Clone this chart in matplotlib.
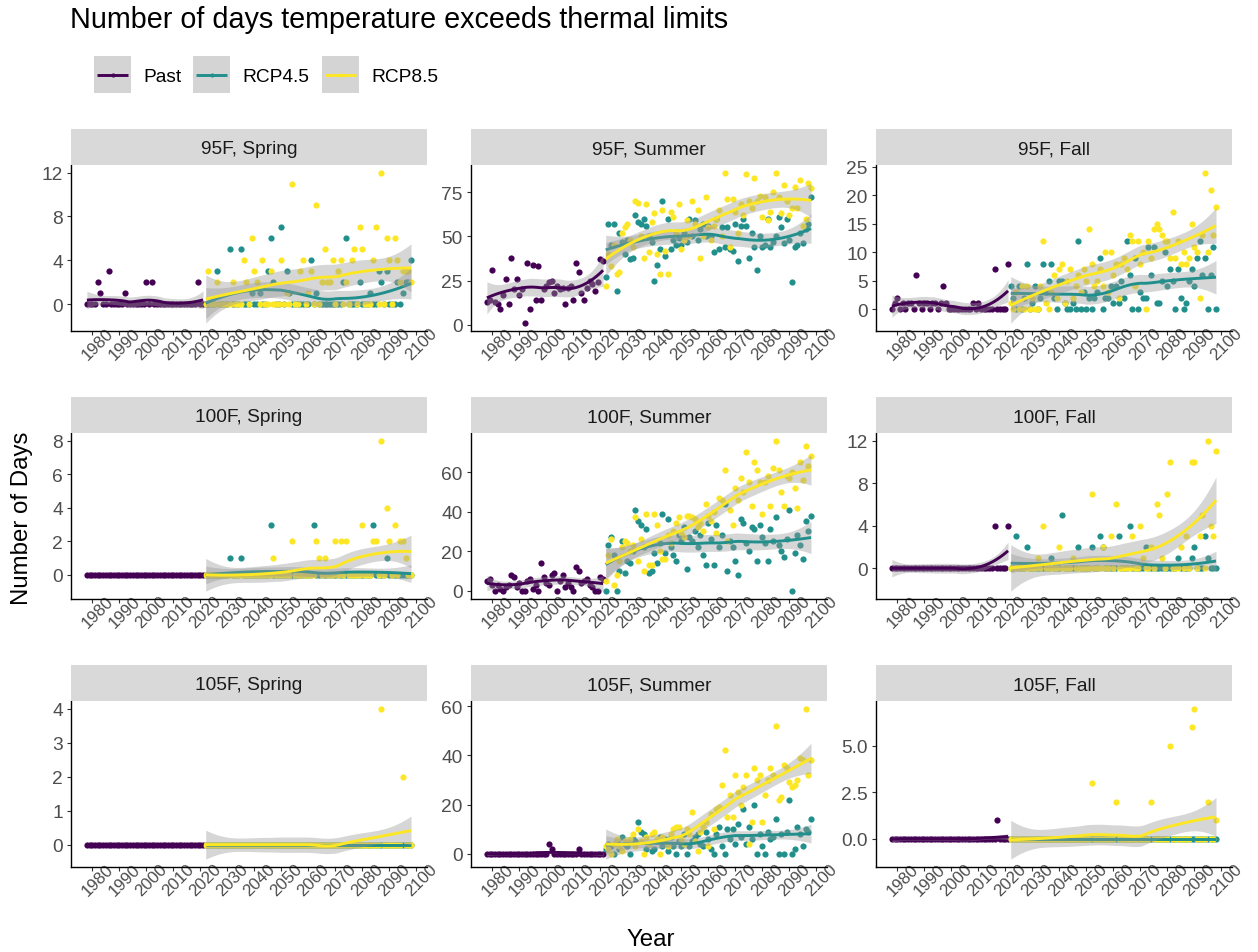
import numpy as np
import matplotlib
matplotlib.use("Agg")
import matplotlib.pyplot as plt
from matplotlib.patches import Rectangle

plt.rcParams["font.family"] = ["Liberation Sans", "DejaVu Sans"]

# ---------------------------------------------------------------- data
years_past = list(range(1978, 2022))
years_proj = list(range(2022, 2099))

series_names = ["Past", "RCP4.5", "RCP8.5"]
series_colors = ["#440154", "#21908C", "#FDE725"]

panel_titles = ["95F, Spring", "95F, Summer", "95F, Fall",
                "100F, Spring", "100F, Summer", "100F, Fall",
                "105F, Spring", "105F, Summer", "105F, Fall"]

# --- 95F
past_95_spring = [0, 0, 0, 0, 2, 1, 0, 0, 3, 0,
                  0, 0, 0, 0, 1, 0, 0, 0, 0, 0,
                  0, 0, 2, 0, 2, 0, 0, 0, 0, 0,
                  0, 0, 0, 0, 0, 0, 0, 0, 0, 0,
                  0, 2, 0, 0]
rcp45_95_spring = [0, 0, 0, 0, 3, 0, 0, 0, 0, 5,
                   0, 0, 0, 5, 0, 0, 0, 1, 0, 0,
                   1, 0, 0, 3, 6, 2, 0, 0, 7, 0,
                   3, 1, 0, 0, 0, 0, 0, 0, 0, 4,
                   0, 1, 0, 0, 0, 0, 0, 0, 0, 0,
                   0, 2, 6, 0, 0, 0, 0, 2, 0, 0,
                   0, 1, 0, 0, 3, 2, 0, 3, 0, 0,
                   0, 2, 0, 1, 2, 2, 4]
rcp85_95_spring = [0, 3, 0, 0, 2, 0, 0, 0, 0, 0,
                   2, 0, 0, 0, 4, 2, 0, 6, 3, 2,
                   0, 4, 0, 0, 3, 0, 0, 0, 4, 0,
                   1, 0, 11, 0, 0, 3, 4, 0, 1, 3,
                   0, 9, 0, 2, 5, 2, 2, 4, 0, 3,
                   4, 0, 2, 0, 4, 5, 0, 7, 5, 0,
                   0, 0, 4, 7, 0, 12, 0, 6, 4, 0,
                   6, 4, 2, 3, 3, 3, 2]

past_95_summer = [13, 14, 31, 13, 12, 9, 17, 26, 12, 38,
                  20, 26, 17, 20, 1, 35, 9, 34, 14, 33,
                  14, 20, 22, 24, 25, 18, 22, 20, 21, 12,
                  21, 22, 14, 35, 30, 18, 14, 21, 25, 23,
                  19, 24, 37, 36]
rcp45_95_summer = [27, 57, 45, 57, 19, 52, 47, 40, 48, 37,
                   38, 62, 58, 57, 60, 56, 50, 47, 25, 34,
                   43, 70, 39, 60, 43, 48, 45, 49, 45, 52,
                   47, 60, 50, 59, 48, 54, 57, 50, 56, 50,
                   41, 60, 43, 55, 44, 55, 43, 42, 57, 36,
                   56, 60, 56, 38, 52, 44, 31, 50, 44, 45,
                   60, 44, 47, 50, 61, 55, 46, 60, 48, 24,
                   44, 45, 52, 46, 54, 57, 72]
rcp85_95_summer = [22, 40, 33, 45, 29, 30, 52, 55, 57, 48,
                   44, 70, 69, 50, 38, 68, 41, 58, 63, 40,
                   29, 65, 42, 29, 64, 61, 52, 68, 43, 48,
                   59, 50, 70, 57, 65, 38, 50, 72, 55, 48,
                   56, 60, 65, 50, 86, 71, 44, 71, 64, 52,
                   68, 62, 85, 70, 66, 83, 70, 73, 61, 72,
                   59, 64, 75, 86, 72, 63, 79, 70, 62, 66,
                   78, 66, 82, 56, 60, 80, 77]

past_95_fall = [0, 1, 2, 0, 1, 0, 1, 1, 0, 6,
                1, 0, 1, 1, 0, 1, 1, 0, 1, 4,
                1, 0, 0, 0, 0, 0, 0, 0, 0, 0,
                1, 0, 1, 0, 0, 0, 0, 0, 7, 0,
                0, 0, 0, 8]
rcp45_95_fall = [4, 2, 0, 4, 0, 2, 8, 0, 1, 4,
                 0, 2, 8, 3, 5, 8, 2, 0, 5, 5,
                 1, 0, 0, 1, 0, 12, 0, 3, 0, 2,
                 0, 2, 3, 9, 0, 2, 2, 4, 1, 4,
                 1, 5, 2, 12, 6, 0, 9, 0, 3, 2,
                 2, 11, 6, 11, 1, 1, 5, 10, 4, 7,
                 5, 0, 7, 2, 0, 1, 5, 7, 4, 9,
                 12, 6, 9, 0, 6, 11, 0]
rcp85_95_fall = [1, 0, 3, 0, 4, 0, 4, 0, 2, 0,
                 0, 4, 12, 1, 0, 3, 6, 2, 7, 8,
                 1, 5, 7, 2, 4, 6, 3, 7, 5, 14,
                 8, 4, 5, 7, 4, 10, 3, 10, 6, 8,
                 2, 8, 9, 7, 13, 12, 4, 12, 8, 10,
                 0, 12, 9, 14, 15, 14, 13, 12, 12, 9,
                 17, 9, 12, 8, 10, 8, 9, 15, 11, 10,
                 2, 13, 24, 10, 21, 13, 18]

# --- 100F
past_100_spring = [0, 0, 0, 0, 0, 0, 0, 0, 0, 0,
                   0, 0, 0, 0, 0, 0, 0, 0, 0, 0,
                   0, 0, 0, 0, 0, 0, 0, 0, 0, 0,
                   0, 0, 0, 0, 0, 0, 0, 0, 0, 0,
                   0, 0, 0, 0]
rcp45_100_spring = [0, 0, 0, 0, 0, 0, 0, 0, 0, 1,
                    0, 0, 0, 1, 0, 0, 0, 0, 0, 0,
                    0, 0, 0, 0, 3, 0, 0, 0, 0, 0,
                    0, 0, 0, 0, 0, 0, 0, 0, 0, 0,
                    3, 0, 0, 0, 0, 0, 0, 0, 0, 0,
                    0, 0, 0, 0, 0, 0, 0, 0, 0, 0,
                    0, 0, 3, 0, 0, 0, 0, 1, 0, 0,
                    0, 0, 0, 0, 0, 0, 0]
rcp85_100_spring = [0, 0, 0, 0, 0, 0, 0, 0, 0, 0,
                    0, 0, 0, 0, 0, 0, 0, 0, 0, 0,
                    0, 0, 0, 0, 0, 1, 0, 0, 0, 0,
                    0, 0, 2, 0, 0, 0, 0, 0, 0, 0,
                    0, 2, 1, 0, 1, 0, 0, 0, 2, 0,
                    2, 0, 2, 0, 0, 0, 0, 0, 3, 0,
                    0, 0, 2, 2, 0, 8, 0, 4, 2, 0,
                    3, 0, 2, 2, 1, 0, 0]

past_100_summer = [5, 6, 3, 0, 3, 1, 0, 2, 3, 8,
                   7, 2, 4, 0, 0, 5, 6, 1, 3, 0,
                   14, 7, 4, 3, 8, 9, 0, 5, 8, 2,
                   4, 2, 0, 12, 10, 4, 5, 6, 3, 2,
                   0, 0, 7, 6]
rcp45_100_summer = [0, 23, 27, 18, 0, 10, 25, 9, 15, 14,
                    20, 41, 35, 33, 22, 31, 9, 10, 19, 14,
                    24, 39, 19, 36, 22, 18, 15, 28, 25, 32,
                    11, 27, 25, 30, 22, 28, 18, 13, 34, 26,
                    13, 33, 22, 28, 44, 10, 25, 22, 15, 8,
                    36, 34, 24, 20, 32, 31, 15, 33, 27, 24,
                    15, 31, 25, 37, 23, 20, 17, 26, 41, 0,
                    19, 28, 23, 16, 35, 30, 38]
rcp85_100_summer = [5, 18, 26, 3, 8, 15, 22, 25, 24, 20,
                    23, 37, 15, 26, 10, 39, 13, 13, 39, 33,
                    20, 16, 16, 28, 24, 30, 34, 37, 29, 27,
                    38, 38, 37, 36, 32, 34, 30, 44, 38, 35,
                    40, 29, 47, 46, 61, 25, 41, 33, 52, 46,
                    57, 50, 70, 55, 43, 65, 61, 55, 39, 55,
                    58, 43, 62, 76, 61, 50, 43, 58, 57, 60,
                    52, 42, 65, 56, 73, 63, 68]

past_100_fall = [0, 0, 0, 0, 0, 0, 0, 0, 0, 0,
                 0, 0, 0, 0, 0, 0, 0, 0, 0, 0,
                 0, 0, 0, 0, 0, 0, 0, 0, 0, 0,
                 0, 0, 0, 0, 0, 0, 0, 0, 4, 0,
                 0, 0, 0, 4]
rcp45_100_fall = [0, 0, 3, 0, 0, 0, 2, 0, 0, 0,
                  0, 0, 0, 0, 0, 1, 0, 0, 0, 5,
                  0, 0, 0, 0, 0, 2, 0, 0, 0, 0,
                  2, 0, 0, 3, 2, 0, 0, 0, 0, 0,
                  3, 0, 0, 0, 4, 0, 0, 0, 0, 0,
                  2, 0, 0, 0, 0, 0, 0, 0, 0, 0,
                  0, 0, 1, 0, 0, 0, 0, 1, 2, 0,
                  0, 0, 3, 1, 0, 0, 0]
rcp85_100_fall = [0, 0, 0, 0, 0, 0, 0, 0, 0, 0,
                  1, 0, 4, 0, 0, 0, 0, 0, 2, 0,
                  0, 0, 0, 1, 0, 0, 0, 0, 0, 0,
                  7, 0, 0, 0, 2, 0, 0, 3, 0, 6,
                  0, 0, 0, 0, 0, 3, 0, 0, 4, 1,
                  0, 0, 2, 0, 6, 5, 1, 0, 7, 10,
                  0, 0, 0, 2, 0, 3, 0, 10, 10, 0,
                  3, 5, 0, 12, 4, 3, 11]

# --- 105F
past_105_spring = [0, 0, 0, 0, 0, 0, 0, 0, 0, 0,
                   0, 0, 0, 0, 0, 0, 0, 0, 0, 0,
                   0, 0, 0, 0, 0, 0, 0, 0, 0, 0,
                   0, 0, 0, 0, 0, 0, 0, 0, 0, 0,
                   0, 0, 0, 0]
rcp45_105_spring = [0, 0, 0, 0, 0, 0, 0, 0, 0, 0,
                    0, 0, 0, 0, 0, 0, 0, 0, 0, 0,
                    0, 0, 0, 0, 0, 0, 0, 0, 0, 0,
                    0, 0, 0, 0, 0, 0, 0, 0, 0, 0,
                    0, 0, 0, 0, 0, 0, 0, 0, 0, 0,
                    0, 0, 0, 0, 0, 0, 0, 0, 0, 0,
                    0, 0, 0, 0, 0, 0, 0, 0, 0, 0,
                    0, 0, 0, 0, 0, 0, 0]
rcp85_105_spring = [0, 0, 0, 0, 0, 0, 0, 0, 0, 0,
                    0, 0, 0, 0, 0, 0, 0, 0, 0, 0,
                    0, 0, 0, 0, 0, 0, 0, 0, 0, 0,
                    0, 0, 0, 0, 0, 0, 0, 0, 0, 0,
                    0, 0, 0, 0, 0, 0, 0, 0, 0, 0,
                    0, 0, 0, 0, 0, 0, 0, 0, 0, 0,
                    0, 0, 0, 0, 0, 4, 0, 0, 0, 0,
                    0, 0, 0, 2, 0, 0, 0]

past_105_summer = [0, 0, 0, 0, 0, 0, 0, 0, 0, 0,
                   0, 0, 0, 0, 0, 0, 0, 0, 0, 0,
                   0, 0, 0, 4, 2, 0, 0, 0, 0, 0,
                   0, 0, 0, 0, 2, 0, 0, 0, 0, 0,
                   0, 0, 0, 0]
rcp45_105_summer = [2, 4, 3, 0, 5, 2, 7, 4, 3, 0,
                    6, 5, 13, 9, 8, 2, 4, 1, 2, 5,
                    7, 3, 6, 1, 7, 3, 0, 5, 3, 8,
                    0, 3, 5, 7, 8, 4, 3, 9, 6, 2,
                    0, 8, 11, 3, 0, 10, 6, 10, 4, 12,
                    7, 18, 4, 11, 6, 20, 0, 8, 3, 0,
                    9, 6, 7, 14, 0, 8, 0, 9, 22, 0,
                    2, 11, 8, 3, 10, 9, 14]
rcp85_105_summer = [3, 2, 0, 4, 6, 3, 1, 5, 5, 6,
                    8, 3, 10, 5, 0, 7, 4, 8, 9, 6,
                    0, 7, 5, 3, 8, 10, 11, 11, 6, 4,
                    10, 8, 17, 5, 1, 9, 11, 13, 3, 16,
                    10, 18, 19, 28, 42, 15, 24, 15, 32, 25,
                    20, 27, 32, 4, 13, 35, 30, 32, 13, 24,
                    30, 35, 32, 52, 22, 23, 36, 35, 29, 27,
                    28, 30, 39, 38, 59, 32, 38]

past_105_fall = [0, 0, 0, 0, 0, 0, 0, 0, 0, 0,
                 0, 0, 0, 0, 0, 0, 0, 0, 0, 0,
                 0, 0, 0, 0, 0, 0, 0, 0, 0, 0,
                 0, 0, 0, 0, 0, 0, 0, 0, 0, 1,
                 0, 0, 0, 0]
rcp45_105_fall = [0, 0, 0, 0, 0, 0, 0, 0, 0, 0,
                  0, 0, 0, 0, 0, 0, 0, 0, 0, 0,
                  0, 0, 0, 0, 0, 0, 0, 0, 0, 0,
                  0, 0, 0, 0, 0, 0, 0, 0, 0, 0,
                  0, 0, 0, 0, 0, 0, 0, 0, 0, 0,
                  0, 0, 0, 0, 0, 0, 0, 0, 0, 0,
                  0, 0, 0, 0, 0, 0, 0, 0, 0, 0,
                  0, 0, 0, 0, 0, 0, 0]
rcp85_105_fall = [0, 0, 0, 0, 0, 0, 0, 0, 0, 0,
                  0, 0, 0, 0, 0, 0, 0, 0, 0, 0,
                  0, 0, 0, 0, 0, 0, 0, 0, 0, 0,
                  3, 0, 0, 0, 0, 0, 0, 0, 0, 2,
                  0, 0, 0, 0, 0, 0, 0, 0, 0, 0,
                  0, 0, 2, 0, 0, 0, 0, 0, 0, 5,
                  0, 0, 0, 0, 0, 0, 0, 6, 7, 0,
                  0, 0, 0, 2, 0, 0, 1]

x_breaks = [1980, 1990, 2000, 2010, 2020, 2030, 2040, 2050,
            2060, 2070, 2080, 2090, 2100]
y_breaks = [[0, 4, 8, 12], [0, 25, 50, 75], [0, 5, 10, 15, 20, 25],
            [0, 2, 4, 6, 8], [0, 20, 40, 60], [0, 4, 8, 12],
            [0, 1, 2, 3, 4], [0, 20, 40, 60], [0.0, 2.5, 5.0]]

panel_series = [
    (past_95_spring, rcp45_95_spring, rcp85_95_spring),
    (past_95_summer, rcp45_95_summer, rcp85_95_summer),
    (past_95_fall, rcp45_95_fall, rcp85_95_fall),
    (past_100_spring, rcp45_100_spring, rcp85_100_spring),
    (past_100_summer, rcp45_100_summer, rcp85_100_summer),
    (past_100_fall, rcp45_100_fall, rcp85_100_fall),
    (past_105_spring, rcp45_105_spring, rcp85_105_spring),
    (past_105_summer, rcp45_105_summer, rcp85_105_summer),
    (past_105_fall, rcp45_105_fall, rcp85_105_fall),
]


# ---------------------------------------------------------------- loess
def t975(df):
    z = 1.959964
    g1 = (z ** 3 + z) / 4
    g2 = (5 * z ** 5 + 16 * z ** 3 + 3 * z) / 96
    g3 = (3 * z ** 7 + 19 * z ** 5 + 17 * z ** 3 - 15 * z) / 384
    return z + g1 / df + g2 / df ** 2 + g3 / df ** 3


def loess_smooth(x, y, n_out=80, span=0.75):
    """Local quadratic regression with tricube weights and a 95% band."""
    x = np.asarray(x, float)
    y = np.asarray(y, float)
    n = len(x)
    q = int(np.floor(n * span))

    def weights_row(x0):
        d = np.abs(x - x0)
        h = np.sort(d)[q - 1] * 1.0000001
        w = np.clip(1 - (d / h) ** 3, 0, None) ** 3
        X = np.column_stack([np.ones(n), x - x0, (x - x0) ** 2])
        XtW = X.T * w
        return np.linalg.solve(XtW @ X, XtW)[0]

    L = np.array([weights_row(v) for v in x])
    resid = y - L @ y
    M = (np.eye(n) - L).T @ (np.eye(n) - L)
    d1 = np.trace(M)
    d2 = np.trace(M @ M)
    sigma = np.sqrt(np.sum(resid ** 2) / d1)
    grid = np.linspace(x.min(), x.max(), n_out)
    Lg = np.array([weights_row(v) for v in grid])
    fit = Lg @ y
    se = sigma * np.sqrt(np.sum(Lg ** 2, axis=1))
    t = t975(d1 ** 2 / d2)
    return grid, fit, fit - t * se, fit + t * se


# ---------------------------------------------------------------- layout
W, H = 1258, 953
fig = plt.figure(figsize=(W / 100, H / 100), dpi=100)
fig.patch.set_facecolor("white")


def rect(x, y, w, h):
    return [x / W, 1 - (y + h) / H, w / W, h / H]


col_left = [70.7, 470.7, 875.7]
row_top = [166.0, 434.0, 702.0]
pw, ph, strip_h = 356.5, 165.7, 36.0

small = 13.8
tick_col = "#4D4D4D"

for k, (title, series) in enumerate(zip(panel_titles, panel_series)):
    r, c = divmod(k, 3)
    ax = fig.add_axes(rect(col_left[c], row_top[r], pw, ph))
    xs_all, ys_all = [], []
    smooths = []
    for vals, col in zip(series, series_colors):
        xs = years_past if len(vals) == len(years_past) else years_proj
        ax.scatter(xs, vals, s=20, color=col, linewidths=0, zorder=2)
        g, f, lo, hi = loess_smooth(xs, vals)
        smooths.append((g, f, lo, hi, col))
        xs_all += list(xs)
        ys_all += list(vals) + list(lo) + list(hi)
    for g, f, lo, hi, col in smooths:
        ax.fill_between(g, lo, hi, color="#999999", alpha=0.4,
                        linewidth=0, zorder=3)
        ax.plot(g, f, color=col, lw=2.1, zorder=3, solid_capstyle="butt")

    x0, x1 = min(xs_all), max(xs_all)
    y0, y1 = min(ys_all), max(ys_all)
    ax.set_xlim(x0 - 0.05 * (x1 - x0), x1 + 0.05 * (x1 - x0))
    ax.set_ylim(y0 - 0.05 * (y1 - y0), y1 + 0.05 * (y1 - y0))

    ax.set_xticks(x_breaks)
    ax.set_xticklabels([str(v) for v in x_breaks], rotation=45,
                       rotation_mode="anchor", ha="center", va="top",
                       fontsize=12.2)
    yb = y_breaks[k]
    ax.set_yticks(yb)
    if any(isinstance(v, float) for v in yb):
        ax.set_yticklabels([f"{v:.1f}" for v in yb])
    else:
        ax.set_yticklabels([str(v) for v in yb])
    ax.tick_params(axis="both", length=3.2, width=0.8, color="#333333",
                   labelcolor=tick_col, pad=2.5)
    ax.tick_params(axis="y", labelsize=small)
    for side in ("top", "right"):
        ax.spines[side].set_visible(False)
    for side in ("left", "bottom"):
        ax.spines[side].set_linewidth(1.0)
        ax.spines[side].set_color("black")
    ax.set_facecolor("white")

    sax = fig.add_axes(rect(col_left[c], row_top[r] - strip_h, pw, strip_h))
    sax.set_facecolor("#D9D9D9")
    sax.set_xticks([])
    sax.set_yticks([])
    for s in sax.spines.values():
        s.set_visible(False)
    sax.text(0.5, 0.5, title, ha="center", va="center_baseline",
             fontsize=small, color="#1A1A1A", transform=sax.transAxes)

# titles
fig.text(70 / W, 1 - 28 / H, "Number of days temperature exceeds thermal limits",
         fontsize=20.7, ha="left", va="baseline", color="black")
fig.text(22 / W, 1 - 518 / H, "Number of Days", rotation=90,
         fontsize=17.3, ha="center", va="center", color="black")
fig.text(651 / W, 1 - 940 / H, "Year", fontsize=17.3,
         ha="center", va="center", color="black")

# legend
lax = fig.add_axes([0, 0, 1, 1])
lax.set_xlim(0, W)
lax.set_ylim(H, 0)
lax.axis("off")
key_x = [94, 193, 322]
key_y, key_s = 57, 37
for kx, name, col in zip(key_x, series_names, series_colors):
    lax.add_patch(Rectangle((kx, key_y), key_s, key_s, facecolor="#D4D4D4",
                            edgecolor="none"))
    lax.plot([kx + 3, kx + key_s - 3], [key_y + key_s / 2] * 2, color=col,
             lw=2.1, solid_capstyle="butt")
    lax.plot([kx + key_s / 2], [key_y + key_s / 2], "o", color=col, ms=3,
             mew=0)
    lax.text(kx + key_s + 12, key_y + key_s / 2, name, fontsize=small,
             ha="left", va="center_baseline", color="black")

fig.savefig("out.png", dpi=100, facecolor="white")
